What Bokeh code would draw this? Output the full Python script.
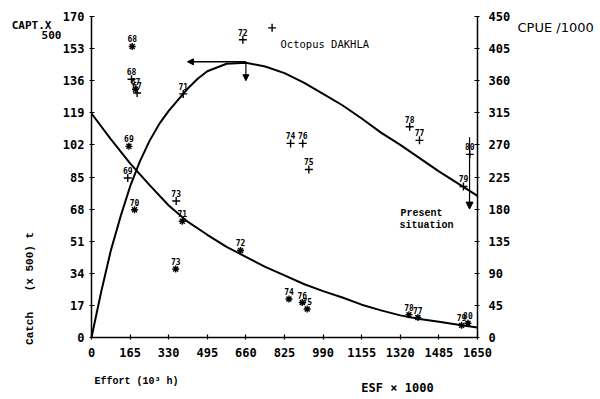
import math
from bokeh.plotting import figure
from bokeh.models import Range1d, LinearAxis, FixedTicker, Label, Arrow, NormalHead, ColumnDataSource
from bokeh.core.properties import value
from bokeh.embed import file_html
from bokeh.resources import INLINE

# ---- data ----
effort_ticks = [0, 165, 330, 495, 660, 825, 990, 1155, 1320, 1485, 1650]
catch_ticks = [0, 17, 34, 51, 68, 85, 102, 119, 136, 153, 170]
cpue_ticks = [0, 45, 90, 135, 180, 225, 270, 315, 360, 405, 450]

catch_curve_effort = [0, 41, 82.5, 124, 165, 206, 247.5, 289, 330, 371, 412.5, 454, 495,
                      577.5, 660, 742.5, 825, 907.5, 990, 1072.5, 1155, 1237.5, 1320,
                      1402.5, 1485, 1567.5, 1650]
catch_curve = [0, 24, 46, 64, 80, 93, 104, 113, 120, 126, 132, 137, 141,
               145, 145.5, 143.5, 140, 135, 129, 123, 116, 108.5, 102,
               95, 88, 81.5, 75]

cpue_curve_effort = [0, 82.5, 165, 247.5, 330, 412.5, 495, 577.5, 660, 742.5, 825,
                     907.5, 990, 1072.5, 1155, 1237.5, 1320, 1402.5, 1485, 1567.5, 1650]
cpue_curve = [314, 278, 244, 214, 185, 162, 144, 127, 113, 99, 87,
              75, 65, 56, 46, 38, 31, 26, 22, 18, 14]

catch_years = ["68", "67", "69", "71", "73", "72", "", "74", "76", "75", "78", "77", "79", "80"]
catch_effort = [171, 195, 155, 392, 362, 647, 772, 851, 903, 929, 1360, 1402, 1590, 1617]
catch_vals = [136.8, 129.5, 84.5, 129, 72.3, 157.7, 164, 102.8, 102.8, 89, 111.6, 104.4, 80, 97]

cpue_years = ["68", "67", "69", "70", "71", "73", "72", "74", "76", "75", "78", "77", "79", "80"]
cpue_effort = [174, 188, 160, 184, 388, 360, 637, 844, 901, 922, 1357, 1395, 1582, 1609]
cpue_vals = [408, 348, 268, 179, 163, 96, 122, 54, 49, 40, 32, 28, 17, 20]

MONO = "DejaVu Sans Mono"
TYPE = "Liberation Mono"

W, H = 596, 396
# frame covers the whole canvas; axes are drawn at fixed locations inside it
XL, XR = 91, 477          # pixel positions of effort 0 and 1650
YB, YT = 337, 16          # pixel positions of catch 0 and 170
ux = 1650 / (XR - XL)
uy = 170 / (YB - YT)
x_rng = Range1d(-XL * ux, (W - XL) * ux)
y_rng = Range1d(-(H - YB) * uy, YB * uy)
k = 450 / 170

p = figure(width=W, height=H, x_range=x_rng, y_range=y_rng, title=None,
           output_backend="svg", toolbar_location=None,
           min_border_left=0, min_border_right=0, min_border_top=0, min_border_bottom=0)
p.grid.visible = False
p.outline_line_color = None
p.background_fill_color = "white"
p.border_fill_color = "white"

def style_axis(ax):
    ax.axis_line_color = "black"
    ax.axis_line_width = 1.5
    ax.major_tick_line_color = "black"
    ax.major_tick_line_width = 1.2
    ax.major_tick_in = 3
    ax.major_tick_out = 2
    ax.minor_tick_line_color = None
    ax.major_label_text_font = MONO
    ax.major_label_text_font_style = "bold"
    ax.major_label_text_font_size = "12px"
    ax.major_label_text_color = "black"

xa = p.xaxis[0]
xa.ticker = FixedTicker(ticks=effort_ticks)
xa.fixed_location = 0
xa.bounds = (0, 1650)
xa.major_label_standoff = 8
style_axis(xa)

ya = p.yaxis[0]
ya.ticker = FixedTicker(ticks=catch_ticks)
ya.fixed_location = 0
ya.bounds = (0, 170)
ya.major_label_standoff = 5
style_axis(ya)

p.extra_y_ranges = {"cpue": Range1d(y_rng.start * k, y_rng.end * k)}
rax = LinearAxis(y_range_name="cpue", ticker=FixedTicker(ticks=cpue_ticks))
style_axis(rax)
rax.fixed_location = 1650
rax.bounds = (0, 450)
rax.major_label_standoff = 9
p.add_layout(rax, "right")

# curves
p.line(catch_curve_effort, catch_curve, line_color="black", line_width=2)
p.line(cpue_curve_effort, cpue_curve, line_color="black", line_width=2, y_range_name="cpue")

# points
csrc = ColumnDataSource(dict(x=catch_effort, y=catch_vals, t=catch_years))
p.scatter("x", "y", source=csrc, marker="cross", size=8, line_color="black", line_width=1.4)
p.text("x", "y", text="t", source=csrc, y_offset=-4, text_align="center", text_baseline="bottom",
       text_font_size="8px", text_font=value(MONO), text_font_style="bold", text_color="black")

ssrc = ColumnDataSource(dict(x=cpue_effort, y=cpue_vals, t=cpue_years))
p.scatter("x", "y", source=ssrc, marker="asterisk", size=7, line_color="black", line_width=1.4,
          y_range_name="cpue")
p.text("x", "y", text="t", source=ssrc, y_offset=-4, text_align="center", text_baseline="bottom",
       text_font_size="8px", text_font=value(MONO), text_font_style="bold", text_color="black",
       y_range_name="cpue")

# arrows
p.add_layout(Arrow(end=NormalHead(size=6, fill_color="black", line_color="black"),
                   x_start=660, y_start=146, x_end=410, y_end=146, line_width=1.5))
p.add_layout(Arrow(end=NormalHead(size=6, fill_color="black", line_color="black"),
                   x_start=660, y_start=146, x_end=660, y_end=136, line_width=1.2))
p.add_layout(Arrow(end=NormalHead(size=7, fill_color="black", line_color="black"),
                   x_start=1616, y_start=106, x_end=1616, y_end=68, line_width=1.2))

def lab(text, x, y, size="11px", font=MONO, align="left", angle=0, style="bold"):
    p.add_layout(Label(x=x, y=y, text=text, text_font=font, text_font_size=size,
                       text_font_style=style, text_align=align, text_baseline="middle",
                       angle=angle, text_color="black"))

lab("CAPT.X", -256, 165.2, size="11px", align="center")
lab("500", -171, 160.0, size="11px", align="center")
lab("Catch", -265, 4.8, size="11px", font=TYPE, align="center", angle=math.pi / 2)
lab("(x 500) t", -265, 40.2, size="11px", font=TYPE, align="center", angle=math.pi / 2)
lab("Effort (10\u00b3 h)", 192, -23.3, size="10px", font=TYPE, align="center")
lab("ESF \u00d7 1000", 1308, -26.5, size="12px", align="center")
lab("CPUE /1000", 1821, 164.2, size="13px", font="DejaVu Sans", align="left", style="normal")
lab("Octopus DAKHLA", 808, 155.7, size="10.5px", align="left", style="normal")
lab("Present", 1321, 65.7, size="10px", font=TYPE, align="left")
lab("situation", 1317, 59.3, size="10px", font=TYPE, align="left")

open("out.html", "w").write(file_html(p, INLINE))
